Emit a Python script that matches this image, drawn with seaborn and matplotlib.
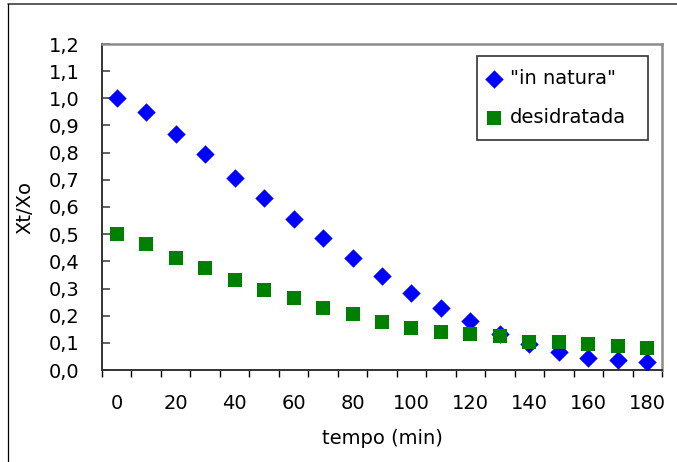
import matplotlib
matplotlib.use("Agg")
import matplotlib.pyplot as plt
from matplotlib.lines import Line2D
from matplotlib.ticker import FixedLocator, FixedFormatter
import seaborn as sns
import pandas as pd

# Drying kinetics: moisture ratio Xt/Xo against time
tempo = [0, 10, 20, 30, 40, 50, 60, 70, 80, 90,
         100, 110, 120, 130, 140, 150, 160, 170, 180]
in_natura = [1.00, 0.95, 0.87, 0.795, 0.708, 0.634, 0.555, 0.487, 0.413, 0.347,
             0.282, 0.229, 0.179, 0.132, 0.094, 0.066, 0.045, 0.037, 0.030]
desidratada = [0.50, 0.465, 0.412, 0.377, 0.332, 0.296, 0.265, 0.229, 0.206, 0.178,
               0.156, 0.141, 0.134, 0.126, 0.104, 0.104, 0.096, 0.089, 0.082]

series_names = ['"in natura"', "desidratada"]
x_tick_values = [0, 20, 40, 60, 80, 100, 120, 140, 160, 180]
y_tick_values = [0.0, 0.1, 0.2, 0.3, 0.4, 0.5, 0.6, 0.7, 0.8, 0.9, 1.0, 1.1, 1.2]
y_tick_labels = ["0,0", "0,1", "0,2", "0,3", "0,4", "0,5", "0,6",
                 "0,7", "0,8", "0,9", "1,0", "1,1", "1,2"]

df_nat = pd.DataFrame({"tempo": tempo, "ratio": in_natura})
df_des = pd.DataFrame({"tempo": tempo, "ratio": desidratada})

sns.set_theme(style="white")
plt.rcParams["font.family"] = ["DejaVu Sans"]
plt.rcParams["text.color"] = "black"
FS = 14

fig = plt.figure(figsize=(6.77, 4.62), dpi=100)
ax = fig.add_axes([102 / 677, 1 - 370 / 462, 560 / 677, 326 / 462])

sns.scatterplot(data=df_nat, x="tempo", y="ratio", ax=ax, marker="D", s=88,
                color="#0000FF", linewidth=0, label=series_names[0], zorder=3)
sns.scatterplot(data=df_des, x="tempo", y="ratio", ax=ax, marker="s", s=110,
                color="#008000", linewidth=0, label=series_names[1], zorder=4)

# category-style x axis: labels under the points, tick marks between them
ax.set_xlim(-5, 185)
ax.set_ylim(0, 1.2)
ax.xaxis.set_major_locator(FixedLocator(x_tick_values))
ax.xaxis.set_minor_locator(FixedLocator([t - 5 for t in tempo] + [185]))
ax.yaxis.set_major_locator(FixedLocator(y_tick_values))
ax.yaxis.set_major_formatter(FixedFormatter(y_tick_labels))

ax.tick_params(axis="x", which="major", length=0, pad=17.5,
               labelsize=FS, labelcolor="black")
ax.tick_params(axis="x", which="minor", bottom=True, direction="out",
               length=5, width=1.0, color="black")
ax.tick_params(axis="y", which="major", left=True, direction="in",
               length=6, width=1.3, color="#555555", pad=16,
               labelsize=FS, labelcolor="black")

ax.set_xlabel("tempo (min)", fontsize=FS, color="black")
ax.set_ylabel("Xt/Xo", fontsize=FS, color="black")
ax.xaxis.set_label_coords(0.5, -0.181)
ax.yaxis.set_label_coords(-0.12, 0.5)

for side in ("left", "bottom"):
    ax.spines[side].set_color("#333333")
    ax.spines[side].set_linewidth(1.4)
for side in ("top", "right"):
    ax.spines[side].set_color("#8c8c8c")
    ax.spines[side].set_linewidth(1.8)
    ax.spines[side].set_visible(True)

leg = ax.legend(loc="upper left",
                bbox_to_anchor=(477 / 677, 1 - 138 / 462, 171 / 677, 82 / 462),
                bbox_transform=fig.transFigure, mode="expand", borderaxespad=0,
                fontsize=FS, frameon=True, fancybox=False, framealpha=1,
                edgecolor="#333333", handlelength=0.45, handletextpad=0.6,
                borderpad=0.65, labelspacing=1.05, markerscale=1.0)
leg.get_frame().set_linewidth(1.2)

# outer border of the graphic
fig.add_artist(Line2D([8 / 677, 1.0], [1 - 4 / 462, 1 - 4 / 462],
                      transform=fig.transFigure, color="#404040", linewidth=1.2))
fig.add_artist(Line2D([8 / 677, 8 / 677], [0.0, 1 - 4 / 462],
                      transform=fig.transFigure, color="black", linewidth=0.9))

fig.savefig("out.png", dpi=100)
